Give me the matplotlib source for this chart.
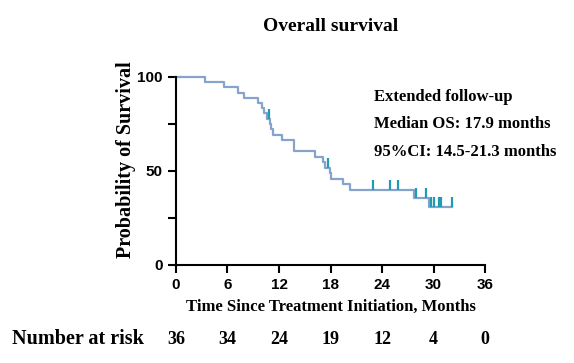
import numpy as np
import matplotlib
matplotlib.use("Agg")
import matplotlib.pyplot as plt
from matplotlib.path import Path

# Kaplan-Meier steps (months, % surviving)
event_times = [0, 3.4, 5.6, 7.2, 7.9, 9.6, 10.0, 10.3, 10.6, 10.9, 11.1, 11.3,
               12.3, 13.7, 16.2, 17.1, 17.4, 17.9, 18.1, 19.4, 20.3, 27.7, 29.5]
survival = [100, 97.2, 94.4, 91.7, 88.9, 86.1, 83.3, 80.6, 77.8, 74.9, 72.1, 69.2,
            66.3, 60.5, 57.6, 54.7, 51.8, 48.8, 45.9, 43.0, 40.0, 35.4, 31.0]
end_time = 32.1
censor_times = [10.8, 17.75, 22.9, 24.9, 25.9, 28.0, 29.1, 29.7, 30.0, 30.6, 30.9, 32.1]

risk_times = [0, 6, 12, 18, 24, 30, 36]
number_at_risk = [36, 34, 24, 19, 12, 4, 0]

serif = "Liberation Serif"
sans = "Liberation Sans"
line_col = "#86a3cb"
tick_col = "#1f9bb5"

fig = plt.figure(figsize=(5.74, 3.63), dpi=100)
ax = fig.add_axes([0.3066, 0.270, 0.5384, 0.518])

t = list(event_times) + [end_time]
s = list(survival) + [survival[-1]]
ax.plot(t, s, drawstyle="steps-post", color=line_col, lw=1.6, clip_on=False)

# censor marks: small upward ticks sitting on the curve
idx = np.searchsorted(event_times, censor_times, side="right") - 1
cs = np.array(survival)[idx]
up_tick = Path([(0, 0), (0, 1)], [Path.MOVETO, Path.LINETO])
ax.plot(censor_times, cs, ls="none", marker=up_tick, ms=14, mew=1.6,
        mec=tick_col, mfc="none", clip_on=False)

ax.set_xlim(0, 36)
ax.set_ylim(0, 100)
ax.set_xticks(range(0, 37, 6))
ax.set_yticks([0, 50, 100])
ax.set_yticks([25, 75], minor=True)
for sp in ["top", "right"]:
    ax.spines[sp].set_visible(False)
for sp in ["left", "bottom"]:
    ax.spines[sp].set_linewidth(1.5)
ax.tick_params(which="both", width=1.5, length=6)
for lab in ax.get_xticklabels() + ax.get_yticklabels():
    lab.set_fontfamily(sans)
    lab.set_fontweight("bold")
    lab.set_fontsize(11)

ax.set_title("Overall survival", fontfamily=serif, fontweight="bold",
             fontsize=14, pad=33)
ax.set_ylabel("Probability of Survival", fontfamily=serif, fontweight="bold",
              fontsize=14.5)
ax.yaxis.set_label_coords(-0.13, 0.56)
ax.set_xlabel("Time Since Treatment Initiation, Months", fontfamily=serif,
              fontweight="bold", fontsize=12, labelpad=5)

notes = ["Extended follow-up", "Median OS: 17.9 months", "95%CI: 14.5-21.3 months"]
for txt, yv in zip(notes, [89.4, 75.0, 60.1]):
    ax.text(23.1, yv, txt, fontfamily=serif, fontweight="bold", fontsize=12,
            va="center", ha="left")

ax.text(-19.1, -39.5, "Number at risk", fontfamily=serif, fontweight="bold",
        fontsize=14.5, va="center", ha="left", clip_on=False)
for x, n in zip(risk_times, number_at_risk):
    ax.text(x, -39.5, str(n), fontfamily=serif, fontweight="bold",
            fontsize=13, va="center", ha="center", clip_on=False)

fig.savefig("out.png", dpi=100)
